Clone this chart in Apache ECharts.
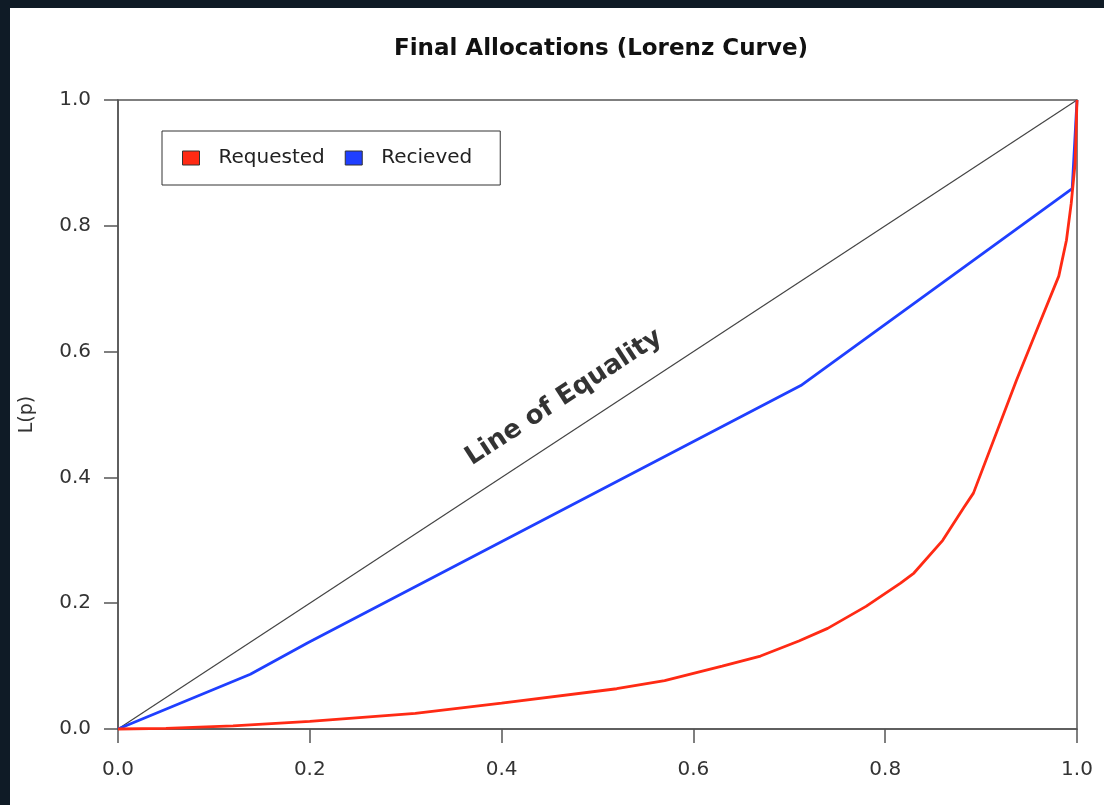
<!DOCTYPE html>
<html>
<head>
<meta charset="utf-8">
<script src="https://cdn.jsdelivr.net/npm/echarts@6/dist/echarts.min.js"></script>
<style>
  html, body { margin: 0; padding: 0; background: #0f1b26; width: 1104px; height: 805px; overflow: hidden; }
  #chart { position: absolute; left: 10px; top: 8px; width: 1094px; height: 797px; background: #ffffff; }
</style>
</head>
<body>
<div id="chart"></div>
<script>
// Line of equality
const equalityX = [0, 1];
const equalityY = [0, 1];

// Recieved (blue) Lorenz curve
const receivedX = [0, 0.138, 0.198, 0.712, 0.995, 1];
const receivedY = [0, 0.087, 0.137, 0.546, 0.859, 1];

// Requested (red) Lorenz curve
const requestedX = [0, 0.05, 0.12, 0.2, 0.31, 0.4, 0.52, 0.57, 0.63, 0.67, 0.71, 0.74, 0.78, 0.816, 0.83, 0.86, 0.882, 0.892, 0.937, 0.958, 0.981, 0.989, 0.994, 0.998, 1];
const requestedY = [0, 0.001, 0.005, 0.012, 0.025, 0.041, 0.064, 0.077, 0.1, 0.116, 0.14, 0.16, 0.195, 0.232, 0.248, 0.3, 0.352, 0.375, 0.555, 0.634, 0.72, 0.777, 0.836, 0.899, 1];

// Annotation
const equalityLabel = 'Line of Equality';
const equalityLabelPos = [0.465, 0.527];

const seriesNames = ['Requested', 'Recieved'];
const titleText = 'Final Allocations (Lorenz Curve)';
const yAxisName = 'L(p)';

const FONT = 'DejaVu Sans';
const pairs = (xs, ys) => xs.map((x, i) => [x, ys[i]]);

const chart = echarts.init(document.getElementById('chart'), null, { renderer: 'canvas' });
chart.setOption({
  animation: false,
  backgroundColor: '#ffffff',
  textStyle: { fontFamily: FONT },
  title: {
    text: titleText,
    left: 586,
    textAlign: 'center',
    top: 25,
    textStyle: { fontFamily: FONT, fontSize: 23, fontWeight: 'bold', color: '#111' }
  },
  legend: {
    data: seriesNames,
    left: 152,
    top: 123,
    orient: 'horizontal',
    padding: [17, 28, 17, 20],
    itemGap: 20,
    itemWidth: 17,
    itemHeight: 14,
    icon: 'rect',
    borderColor: '#333',
    borderWidth: 1,
    itemStyle: { borderColor: '#333', borderWidth: 1 },
    textStyle: { fontFamily: FONT, fontSize: 20, color: '#222', padding: [0, 0, 0, 14] }
  },
  grid: {
    left: 105, top: 92, right: 27, bottom: 76,
    show: true, borderColor: '#555', borderWidth: 1.5, backgroundColor: 'transparent'
  },
  xAxis: {
    type: 'value', min: 0, max: 1, interval: 0.2,
    axisLine: { show: true, onZero: false, lineStyle: { color: '#555', width: 1.5 } },
    axisTick: { show: true, inside: false, length: 14, lineStyle: { color: '#555', width: 1.5 } },
    axisLabel: { margin: 31, fontFamily: FONT, fontSize: 20, color: '#333', formatter: v => v.toFixed(1) },
    splitLine: { show: false }
  },
  yAxis: {
    type: 'value', min: 0, max: 1, interval: 0.2,
    name: yAxisName, nameLocation: 'middle', nameRotate: 90, nameGap: 81,
    nameTextStyle: { fontFamily: FONT, fontSize: 19, color: '#333' },
    axisLine: { show: true, onZero: false, lineStyle: { color: '#555', width: 1.5 } },
    axisTick: { show: true, inside: false, length: 14, lineStyle: { color: '#555', width: 1.5 } },
    axisLabel: { margin: 27, fontFamily: FONT, fontSize: 20, color: '#333', formatter: v => v.toFixed(1) },
    splitLine: { show: false }
  },
  series: [
    {
      name: 'equality', type: 'line', data: pairs(equalityX, equalityY),
      showSymbol: false, clip: false, silent: true,
      lineStyle: { color: '#444', width: 1.2 }, z: 2
    },
    {
      name: 'Recieved', type: 'line', data: pairs(receivedX, receivedY),
      showSymbol: false, clip: false,
      itemStyle: { color: '#1f3fff' },
      lineStyle: { color: '#1f3fff', width: 2.8 }, z: 3
    },
    {
      name: 'Requested', type: 'line', data: pairs(requestedX, requestedY),
      showSymbol: false, clip: false,
      itemStyle: { color: '#ff2a14' },
      lineStyle: { color: '#ff2a14', width: 2.8 }, z: 4
    },
    {
      name: 'label', type: 'scatter', data: [equalityLabelPos],
      symbolSize: 0, silent: true, z: 5,
      label: {
        show: true, position: 'inside', rotate: 33,
        formatter: equalityLabel,
        fontFamily: FONT, fontSize: 26, fontWeight: 'bold', color: '#000'
      }
    }
  ]
});
</script>
</body>
</html>
